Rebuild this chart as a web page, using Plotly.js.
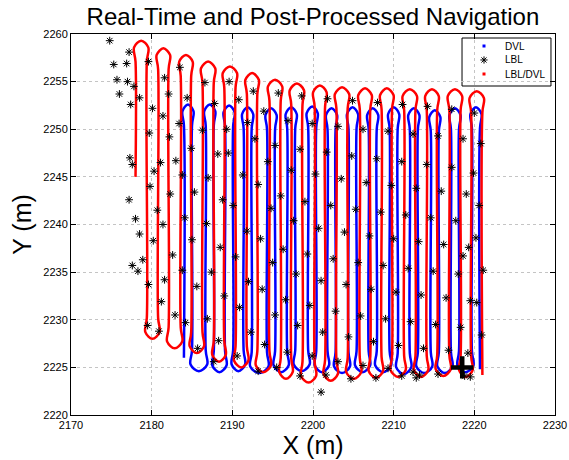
<!DOCTYPE html>
<html><head><meta charset="utf-8">
<script src="https://cdn.plot.ly/plotly-3.0.1.min.js"></script>
<style>html,body{margin:0;padding:0;background:#fff}</style>
</head><body><div id="chart" style="width:569px;height:460px"></div>
<script>
// LBL/DVL (red) track: x of each survey leg, y of each turn (top, bottom alternating)
const redLegX = [2178.0,2179.4,2180.8,2182.1,2183.6,2184.9,2186.3,2187.7,2189.0,2190.4,2191.8,2193.1,2194.6,2196.0,2197.3,2198.7,2200.2,2201.5,2202.9,2204.3,2205.8,2207.1,2208.5,2209.8,2211.3,2212.7,2214.1,2215.4,2216.9,2218.3,2219.6,2221.0];
const redTurnY = [2259.3,2228.0,2258.5,2227.0,2257.8,2226.5,2257.1,2225.6,2256.6,2225.0,2255.9,2224.5,2255.2,2223.8,2254.8,2223.4,2254.6,2223.6,2254.4,2223.8,2254.3,2223.9,2254.3,2224.0,2254.2,2224.0,2254.2,2224.1,2254.2,2224.0,2254.0];
const redStartY = 2245.0, redEndY = 2224.2;

// DVL (blue) track
const blueLegX = [2184.0,2185.0,2186.7,2187.7,2189.1,2190.1,2191.4,2192.4,2194.3,2195.3,2196.8,2197.8,2199.4,2200.4,2201.8,2202.8,2204.4,2205.4,2206.9,2207.9,2209.5,2210.5,2212.0,2213.0,2214.6,2215.6,2217.1,2218.1,2219.7,2220.7];
const blueTurnY = [2252.6,2224.6,2252.6,2224.5,2252.5,2224.6,2252.3,2224.4,2252.2,2224.5,2252.3,2224.6,2252.4,2224.5,2252.2,2224.4,2252.3,2224.5,2252.2,2224.5,2252.3,2224.3,2252.2,2224.4,2252.0,2224.4,2252.2,2224.5,2252.3];
const blueStartY = 2226.0, blueEndY = 2224.8;

// LBL fixes (asterisks)
const lblX = [2174.8,2177.2,2175.3,2176.9,2175.7,2177.0,2176.0,2177.8,2177.4,2178.5,2177.3,2177.6,2177.2,2178.0,2178.5,2177.6,2178.3,2179.5,2178.9,
2179.6,2180.1,2179.7,2180.3,2179.8,2180.7,2180.2,2179.6,2181.2,2181.6,2182.1,2181.4,2182.2,2181.1,2182.3,2181.4,2182.6,2181.6,2182.9,2180.9,
2183.5,2184.4,2183.4,2184.9,2183.8,2185.3,2184.1,2185.0,2183.8,2185.6,2184.2,2185.7,2183.0,
2186.6,2187.8,2186.3,2188.2,2187.0,2188.8,2186.8,2188.5,2187.4,2189.0,2186.9,2188.3,2187.7,2189.3,
2189.6,2190.8,2189.5,2191.3,2190.1,2191.8,2190.4,2192.0,2190.9,2192.3,2190.6,2191.9,
2192.6,2193.9,2192.8,2194.4,2193.2,2194.8,2193.5,2195.0,2193.7,2195.3,2194.0,2195.5,2193.2,
2195.7,2196.9,2195.3,2197.3,2196.0,2197.6,2196.3,2197.9,2196.6,2198.1,2196.8,2198.4,
2198.6,2199.9,2198.4,2200.3,2199.0,2200.7,2199.3,2201.0,2199.6,2201.2,2199.9,2201.6,2201.0,
2201.8,2203.1,2201.7,2203.5,2202.2,2203.9,2202.5,2204.1,2202.8,2204.4,2203.1,2204.7,
2204.9,2206.2,2204.8,2206.6,2205.3,2207.0,2205.6,2207.2,2205.9,2207.5,2206.2,2207.8,
2208.0,2209.3,2207.9,2209.7,2208.4,2210.0,2208.7,2210.3,2209.0,2210.6,2209.3,2211.0,
2211.1,2212.4,2211.0,2212.8,2211.5,2213.1,2211.8,2213.4,2212.1,2213.7,2212.4,2212.8,2213.2,
2214.2,2215.5,2214.1,2215.9,2214.6,2216.2,2214.9,2216.5,2215.2,2216.8,2215.5,
2217.2,2218.6,2217.2,2219.0,2217.7,2219.3,2218.0,2219.5,2218.3,2219.2,2218.8,2218.6,
2220.0,2220.8,2219.9,2220.6,2220.2,2221.1,2220.3,2220.9,2219.5];
const lblY = [2259.3,2258.1,2256.8,2256.9,2255.2,2255.0,2253.7,2254.5,2252.6,2253.3,2247.0,2246.3,2242.6,2240.6,2239.0,2235.7,2235.1,2229.4,2236.3,
2257.1,2252.2,2249.6,2245.6,2244.0,2241.5,2238.3,2233.7,2231.9,2255.4,2253.7,2251.4,2249.2,2246.5,2243.2,2240.0,2236.8,2234.2,2230.5,2228.8,
2256.5,2253.3,2250.6,2248.0,2245.2,2243.4,2240.7,2238.4,2235.2,2233.5,2229.7,2227.0,2246.7,
2254.9,2252.7,2249.9,2247.4,2244.9,2242.6,2240.1,2237.6,2235.0,2232.5,2230.1,2227.8,2225.6,2250.0,
2255.0,2253.1,2247.5,2245.2,2242.0,2239.3,2236.6,2234.0,2231.3,2228.7,2226.2,2250.7,
2254.0,2251.9,2249.0,2246.6,2244.2,2241.7,2238.5,2236.0,2233.2,2230.5,2227.4,2225.0,2224.6,
2253.8,2250.9,2248.3,2245.7,2243.0,2240.4,2237.4,2234.8,2232.1,2229.4,2226.6,2224.1,
2253.5,2250.6,2247.9,2245.3,2242.4,2239.6,2236.9,2234.1,2231.5,2228.7,2226.2,2224.2,2222.4,
2253.2,2250.3,2247.6,2244.8,2242.0,2239.2,2236.4,2233.7,2230.9,2228.2,2225.6,2223.8,
2253.0,2250.0,2247.2,2244.4,2241.6,2238.8,2236.0,2233.2,2230.4,2227.7,2225.2,2223.9,
2252.8,2249.8,2246.9,2244.1,2241.3,2238.5,2235.7,2232.9,2230.1,2227.3,2224.9,2224.1,
2252.6,2249.5,2246.6,2243.8,2241.0,2238.2,2235.4,2232.6,2229.8,2227.0,2224.5,2223.9,2224.2,
2252.4,2249.3,2246.3,2243.5,2240.7,2237.9,2235.1,2232.3,2229.5,2226.8,2224.3,
2252.1,2249.0,2246.0,2243.2,2240.4,2237.6,2234.8,2232.0,2229.2,2226.5,2224.1,2236.7,
2251.7,2248.5,2245.4,2242.0,2238.6,2235.2,2231.8,2228.4,2224.0];

// start marker
const startX = [2218.5], startY = [2225.0];

// legend entries
const legendNames = ['DVL', 'LBL', 'LBL/DVL'];

// builds a continuous lawn-mower path through the legs; each turn is drawn as a small bulb
function trackPath(legX, turnY, y0, y1) {
  const xs = [legX[0]], ys = [y0];
  for (let k = 0; k < turnY.length; k++) {
    const s = (k % 2 === 0) ? -1 : 1;
    const a = legX[k], b = legX[k + 1];
    const dir = b > a ? 1 : -1;
    xs.push(a, a - 0.18 * dir, (a + b) / 2, b + 0.18 * dir, b);
    ys.push(turnY[k] + s * 2.2, turnY[k] + s * 0.7, turnY[k], turnY[k] + s * 0.7, turnY[k] + s * 2.2);
  }
  xs.push(legX[legX.length - 1]); ys.push(y1);
  return {xs, ys};
}
const rp = trackPath(redLegX, redTurnY, redStartY, redEndY);
const bp = trackPath(blueLegX, blueTurnY, blueStartY, blueEndY);

const F = 'Arial, "Liberation Sans", sans-serif';
// legend box geometry in paper fractions of the plot area
const LX0 = 0.8079, LX1 = 0.9917, LY0 = 0.8635, LY1 = 0.9895;
const rowY = [0.9685, 0.9318, 0.8950];
const mkX = 0.8533, txX = 0.8926;

const traces = [
  {x: bp.xs, y: bp.ys, mode: 'lines', line: {color: '#0000ff', width: 2.5, shape: 'spline', smoothing: 1}, showlegend: false, hoverinfo: 'skip'},
  {x: rp.xs, y: rp.ys, mode: 'lines', line: {color: '#ff0000', width: 2.5, shape: 'spline', smoothing: 1}, showlegend: false, hoverinfo: 'skip'},
  {x: lblX, y: lblY, mode: 'markers', showlegend: false,
   marker: {symbol: 'asterisk-open', size: 6.5, color: '#000', line: {color: '#000', width: 1}}},
  {x: startX, y: startY, mode: 'markers', showlegend: false,
   marker: {symbol: 'cross-thin-open', size: 16, color: '#000', line: {color: '#000', width: 4.5}}},
  // legend glyphs
  {x: [mkX], y: [rowY[0]], xaxis: 'x2', yaxis: 'y2', mode: 'markers', showlegend: false,
   marker: {symbol: 'square', size: 3, color: '#0000ff'}},
  {x: [mkX], y: [rowY[1]], xaxis: 'x2', yaxis: 'y2', mode: 'markers', showlegend: false,
   marker: {symbol: 'asterisk-open', size: 6, color: '#000', line: {color: '#000', width: 1}}},
  {x: [mkX], y: [rowY[2]], xaxis: 'x2', yaxis: 'y2', mode: 'markers', showlegend: false,
   marker: {symbol: 'square', size: 3, color: '#ff0000'}}
];
const axisCommon = {
  showline: true, linecolor: '#000', linewidth: 1, mirror: 'ticks',
  ticks: 'inside', ticklen: 5, tickcolor: '#000', tickwidth: 1,
  showgrid: true, gridcolor: '#c4c4c4', griddash: 'dot', gridwidth: 1,
  zeroline: false, tickfont: {family: F, size: 11, color: '#000'}
};
const layout = {
  width: 569, height: 460,
  margin: {l: 71, r: 14, t: 34, b: 45},
  paper_bgcolor: '#fff', plot_bgcolor: '#fff',
  showlegend: false,
  title: {text: 'Real-Time and Post-Processed Navigation', font: {family: F, size: 24, color: '#000'},
          x: 0.55, xref: 'container', y: 0.963, yref: 'container', yanchor: 'middle'},
  xaxis: Object.assign({}, axisCommon, {range: [2170, 2230], dtick: 10, tick0: 2170,
          title: {text: 'X (m)', font: {family: F, size: 25, color: '#000'}, standoff: 0}}),
  yaxis: Object.assign({}, axisCommon, {range: [2220, 2260], dtick: 5, tick0: 2220,
          title: {text: 'Y (m)', font: {family: F, size: 25, color: '#000'}, standoff: 4}}),
  xaxis2: {overlaying: 'x', anchor: 'y2', range: [0, 1], visible: false, fixedrange: true},
  yaxis2: {overlaying: 'y', anchor: 'x2', range: [0, 1], visible: false, fixedrange: true},
  shapes: [{type: 'rect', xref: 'paper', yref: 'paper', x0: LX0, x1: LX1, y0: LY0, y1: LY1,
            fillcolor: '#fff', line: {color: '#000', width: 1}, layer: 'between'}],
  annotations: legendNames.map((t, i) => ({text: t, xref: 'paper', yref: 'paper', x: txX, y: rowY[i],
            xanchor: 'left', yanchor: 'middle', showarrow: false, font: {family: F, size: 10, color: '#000'}}))
};
Plotly.newPlot('chart', traces, layout, {staticPlot: true, displayModeBar: false});
</script></body></html>
